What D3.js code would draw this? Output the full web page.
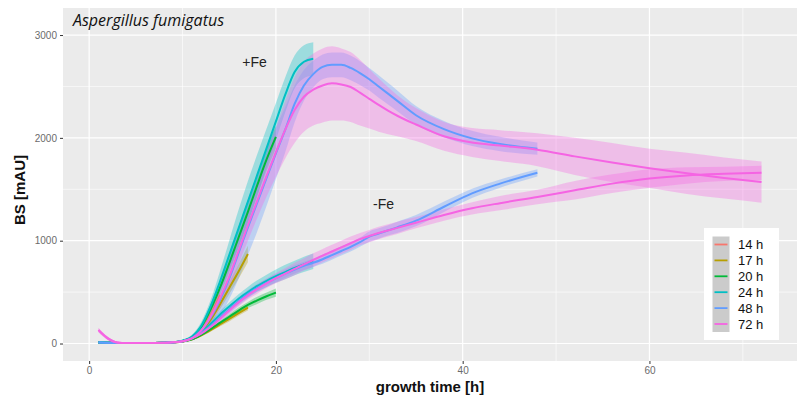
<!DOCTYPE html>
<html>
<head>
<meta charset="utf-8">
<script src="https://cdn.jsdelivr.net/npm/d3@7/dist/d3.min.js"></script>
<style>
  html, body { margin: 0; padding: 0; background: #ffffff; }
  svg { display: block; font-family: "Liberation Sans", Arial, sans-serif; }
</style>
</head>
<body>
<svg id="chart" width="806" height="397"></svg>
<script>
// ---------------- DATA ----------------
const groups = ["14 h", "17 h", "20 h", "24 h", "48 h", "72 h"];
const groupEnd = [14, 17, 20, 24, 48, 72];
const groupColors = ["#F8766D", "#B79F00", "#00BA38", "#00BFC4", "#619CFF", "#F564E3"];

// shared time grid (h); each series uses the first N points up to its end time
const times = [1,2,3,4,5,6,7,8,9,10,11,12,13,14,15,16,17,18,19,20,21,22,23,24,25,26,27,28,29,30,31,32,33,35,38,41,44,48,52,56,60,64,68,72];

// +Fe mean BS [mAU]
const feP14 = [15,8,6,5,5,5,6,8,12,25,60,150,280,470];
const feP17 = [10,8,6,5,5,5,6,8,12,22,45,120,230,380,540,700,870];
const feP20 = [10,8,6,5,5,5,6,8,12,25,60,160,330,540,780,1030,1280,1540,1790,2010];
const feP24 = [12,8,6,5,5,5,6,8,12,28,65,170,360,600,860,1120,1380,1640,1900,2160,2420,2640,2740,2770];
const feP48 = [10,8,6,5,5,5,6,8,12,22,50,130,250,420,630,880,1130,1370,1610,1850,2080,2330,2510,2620,2690,2710,2710,2680,2630,2570,2500,2430,2360,2220,2085,1995,1940,1895];
const feP72 = [130,50,10,5,5,5,6,8,12,22,50,125,260,440,650,900,1150,1390,1630,1860,2080,2270,2400,2470,2510,2530,2520,2495,2440,2380,2320,2265,2215,2130,2015,1955,1925,1885,1820,1760,1705,1655,1610,1570];

// +Fe ribbon half-width (sd)
const sdP14 = [5,5,5,5,5,5,5,5,5,8,15,30,50,70];
const sdP17 = [5,5,5,5,5,5,5,5,5,8,15,25,40,50,60,70,80];
const sdP20 = [5,5,5,5,5,5,5,5,5,8,15,30,50,70,90,100,110,110,110,110];
const sdP24 = [5,5,5,5,5,5,5,5,5,10,20,40,60,100,140,180,200,200,190,180,170,160,160,160];
const sdP48 = [5,5,5,5,5,5,5,5,5,10,20,40,80,150,200,250,270,280,270,250,220,180,150,130,120,120,120,120,115,110,110,105,100,90,80,75,70,60];
const sdP72 = [20,15,8,5,5,5,5,5,5,10,20,40,60,90,110,130,150,170,200,240,280,320,340,350,360,360,350,340,320,290,260,230,200,160,140,140,150,160,180,190,190,200,200,200];

// -Fe mean BS [mAU]
const feM14 = [10,8,6,5,5,5,6,8,12,20,45,90,140,190];
const feM17 = [10,8,6,5,5,5,6,8,12,20,40,80,130,185,240,295,350];
const feM20 = [10,8,6,5,5,5,6,8,12,20,40,85,140,200,260,320,375,420,460,495];
const feM24 = [12,8,6,5,5,5,6,8,12,25,55,110,190,280,360,435,500,560,610,655,695,735,770,800];
const feM48 = [10,8,6,5,5,5,6,8,12,22,50,100,170,250,330,410,480,540,590,635,680,720,755,785,820,860,900,940,985,1040,1070,1100,1130,1195,1330,1460,1555,1660];
const feM72 = [130,50,10,5,5,5,6,8,12,22,50,95,160,240,320,400,470,530,585,635,680,725,770,812,855,895,935,975,1015,1045,1075,1100,1125,1175,1250,1315,1365,1425,1490,1555,1605,1635,1650,1660];

// -Fe ribbon half-width (sd)
const sdM14 = [5,5,5,5,5,5,5,5,5,5,8,12,15,20];
const sdM17 = [5,5,5,5,5,5,5,5,5,5,8,12,15,20,25,25,30];
const sdM20 = [5,5,5,5,5,5,5,5,5,5,8,12,15,20,25,30,30,35,35,40];
const sdM24 = [5,5,5,5,5,5,5,5,5,5,10,15,25,35,40,45,50,55,60,65,70,70,75,75];
const sdM48 = [5,5,5,5,5,5,5,5,5,5,10,15,25,30,35,40,40,40,40,40,40,40,40,40,45,45,45,45,45,50,50,50,55,55,50,45,40,35];
const sdM72 = [20,15,8,5,5,5,5,5,5,5,10,15,20,30,35,40,40,45,45,50,55,60,60,65,65,65,65,65,60,60,60,60,60,55,55,60,70,70,90,90,90,80,70,70];

const xTicks = [0, 20, 40, 60];
const yTicks = [0, 1000, 2000, 3000];
const xMinor = [10, 30, 50, 70];
const yMinor = [500, 1500, 2500];

// ---------------- CHART ----------------
const svg = d3.select("#chart");
const panel = { left: 63, right: 797, top: 8, bottom: 361 };

const x = d3.scaleLinear().domain([-2.8, 75.8]).range([panel.left, panel.right]);
const y = d3.scaleLinear().domain([-170, 3263]).range([panel.bottom, panel.top]);

svg.append("rect").attr("x", 0).attr("y", 0).attr("width", 806).attr("height", 397).attr("fill", "#ffffff");
svg.append("rect")
  .attr("x", panel.left).attr("y", panel.top)
  .attr("width", panel.right - panel.left).attr("height", panel.bottom - panel.top)
  .attr("fill", "#EBEBEB");

const grid = svg.append("g");
grid.selectAll(".xm").data(xMinor).join("line")
  .attr("x1", d => x(d)).attr("x2", d => x(d)).attr("y1", panel.top).attr("y2", panel.bottom)
  .attr("stroke", "#ffffff").attr("stroke-width", 0.6);
grid.selectAll(".ym").data(yMinor).join("line")
  .attr("y1", d => y(d)).attr("y2", d => y(d)).attr("x1", panel.left).attr("x2", panel.right)
  .attr("stroke", "#ffffff").attr("stroke-width", 0.6);
grid.selectAll(".xM").data(xTicks).join("line")
  .attr("x1", d => x(d)).attr("x2", d => x(d)).attr("y1", panel.top).attr("y2", panel.bottom)
  .attr("stroke", "#ffffff").attr("stroke-width", 1.2);
grid.selectAll(".yM").data(yTicks).join("line")
  .attr("y1", d => y(d)).attr("y2", d => y(d)).attr("x1", panel.left).attr("x2", panel.right)
  .attr("stroke", "#ffffff").attr("stroke-width", 1.2);

// series
const plusMeans = [feP14, feP17, feP20, feP24, feP48, feP72];
const plusSd = [sdP14, sdP17, sdP20, sdP24, sdP48, sdP72];
const minusMeans = [feM14, feM17, feM20, feM24, feM48, feM72];
const minusSd = [sdM14, sdM17, sdM20, sdM24, sdM48, sdM72];

function build(means, sds) {
  return means.map((m, gi) => m.map((v, i) => ({ t: times[i], v: v, sd: sds[gi][i] }))
    .filter(d => d.t <= groupEnd[gi]));
}
const plusSeries = build(plusMeans, plusSd);
const minusSeries = build(minusMeans, minusSd);

const area = d3.area().x(d => x(d.t)).y0(d => y(d.v - d.sd)).y1(d => y(d.v + d.sd)).curve(d3.curveMonotoneX);
const line = d3.line().x(d => x(d.t)).y(d => y(d.v)).curve(d3.curveMonotoneX);

const plot = svg.append("g");
groups.forEach((g, gi) => {
  [minusSeries[gi], plusSeries[gi]].forEach(s => {
    plot.append("path").attr("d", area(s)).attr("fill", groupColors[gi]).attr("fill-opacity", 0.33).attr("stroke", "none");
  });
});
groups.forEach((g, gi) => {
  [minusSeries[gi], plusSeries[gi]].forEach(s => {
    plot.append("path").attr("d", line(s)).attr("fill", "none")
      .attr("stroke", groupColors[gi]).attr("stroke-width", 2).attr("stroke-linejoin", "round");
  });
});

// axes
const xAxis = svg.append("g").attr("transform", `translate(0,${panel.bottom})`)
  .call(d3.axisBottom(x).tickValues(xTicks).tickSize(3).tickPadding(3).tickFormat(d3.format("d")));
const yAxis = svg.append("g").attr("transform", `translate(${panel.left},0)`)
  .call(d3.axisLeft(y).tickValues(yTicks).tickSize(3).tickPadding(3).tickFormat(d3.format("d")));
[xAxis, yAxis].forEach(a => {
  a.select(".domain").remove();
  a.selectAll(".tick line").attr("stroke", "#333333");
  a.selectAll(".tick text").attr("fill", "#6b6b6b").style("font-size", "10px");
});

svg.append("text").attr("x", (panel.left + panel.right) / 2).attr("y", 392)
  .attr("text-anchor", "middle").style("font-size", "15px").style("font-weight", "bold")
  .attr("fill", "#111").text("growth time [h]");
svg.append("text").attr("transform", `translate(25,190) rotate(-90)`)
  .attr("text-anchor", "middle").style("font-size", "15px").style("font-weight", "bold")
  .attr("fill", "#111").text("BS [mAU]");

// annotations
svg.append("text").attr("x", 73).attr("y", 26).style("font-size", "16px").style("font-style", "italic")
  .style("font-family", "'Open Sans', 'Liberation Sans', sans-serif")
  .attr("fill", "#111").text("Aspergillus fumigatus");
svg.append("text").attr("x", x(16.4)).attr("y", 67).style("font-size", "14px").attr("fill", "#222").text("+Fe");
svg.append("text").attr("x", x(30.4)).attr("y", 209).style("font-size", "14px").attr("fill", "#222").text("-Fe");

// legend
const lg = svg.append("g");
lg.append("rect").attr("x", 704).attr("y", 228).attr("width", 75).attr("height", 112).attr("fill", "#ffffff");
lg.append("rect").attr("x", 712.5).attr("y", 236.5).attr("width", 17).attr("height", 95.5).attr("fill", "#CBCBCB");
const keyH = 15.9;
groups.forEach((g, gi) => {
  const cy = 244.5 + gi * keyH;
  lg.append("line").attr("x1", 714.5).attr("x2", 727.5).attr("y1", cy).attr("y2", cy)
    .attr("stroke", groupColors[gi]).attr("stroke-width", 1.8);
  lg.append("text").attr("x", 738).attr("y", cy).attr("dy", "0.36em")
    .style("font-size", "13px").attr("fill", "#111").text(g);
});
</script>
</body>
</html>
